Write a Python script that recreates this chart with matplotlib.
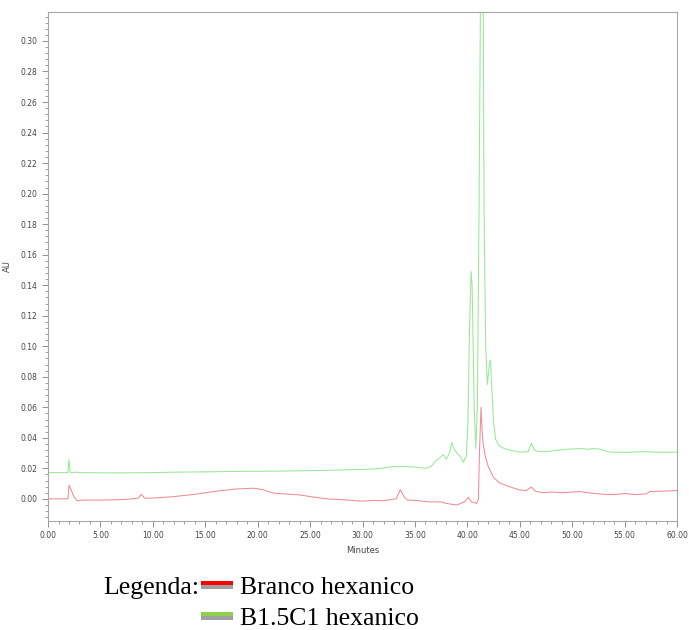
import matplotlib
matplotlib.use("Agg")
import matplotlib.pyplot as plt
from matplotlib.patches import Rectangle
from matplotlib.ticker import MultipleLocator, FormatStrFormatter

# B1.5C1 hexanico (green trace): retention time / min, absorbance / AU
green_time = [0, 1.9, 2.0, 2.1, 2.3, 2.8, 3, 6, 10, 12, 15, 18, 22, 26, 30, 31, 32,
              33, 33.5, 34, 35, 36, 36.5, 37.0, 37.4, 37.7, 38.0, 38.3, 38.5, 38.7,
              39.0, 39.3, 39.6, 39.9, 40.05, 40.2, 40.35, 40.45, 40.55, 40.65, 40.8,
              40.95, 41.1, 41.25, 41.37, 41.5, 41.6, 41.75, 41.9, 42.1, 42.2, 42.35,
              42.5, 42.7, 43.0, 43.5, 44, 45, 45.8, 46.1, 46.4, 46.8, 47.5, 48.8,
              49.5, 50.7, 51.5, 52.0, 52.7, 53.6, 55, 57, 58, 60]
green_au = [0.0172, 0.0172, 0.026, 0.0175, 0.0172, 0.0175, 0.0172, 0.017, 0.0172,
            0.0175, 0.0177, 0.018, 0.0182, 0.0186, 0.0193, 0.0196, 0.0202, 0.0212,
            0.021, 0.0212, 0.0208, 0.020, 0.021, 0.025, 0.027, 0.029, 0.026, 0.030,
            0.037, 0.033, 0.030, 0.028, 0.024, 0.028, 0.05, 0.11, 0.149, 0.14, 0.10,
            0.06, 0.033, 0.06, 0.18, 0.33, 0.42, 0.33, 0.18, 0.10, 0.075, 0.088,
            0.091, 0.07, 0.05, 0.039, 0.035, 0.033, 0.032, 0.0306, 0.031, 0.0365,
            0.032, 0.031, 0.031, 0.032, 0.0325, 0.033, 0.0325, 0.033, 0.0325,
            0.0306, 0.0305, 0.031, 0.0306, 0.0306]

# Branco hexanico (red trace)
red_time = [0, 1.9, 2.0, 2.2, 2.5, 2.8, 3.2, 5, 7, 8, 8.6, 8.9, 9.2, 10, 12, 14, 16,
            18, 19.6, 20.5, 21.5, 23, 24, 25, 26.6, 28, 30, 31, 32, 33.2, 33.6, 34.0,
            34.3, 35, 36.4, 37.5, 38, 39, 39.7, 40.1, 40.4, 40.9, 41.05, 41.15, 41.3,
            41.4, 41.5, 41.7, 42.0, 42.5, 43.1, 44, 45, 45.6, 46.1, 46.5, 47.2, 48,
            49.1, 50.7, 51.5, 53, 54, 55, 56, 57.1, 57.4, 58.5, 60]
red_au = [0.0, 0.0, 0.009, 0.006, 0.001, -0.0013, -0.0008, -0.0008, -0.0005, 0.0,
          0.0005, 0.003, 0.0005, 0.0005, 0.0015, 0.003, 0.005, 0.0065, 0.007, 0.006,
          0.0038, 0.003, 0.0026, 0.0015, 0.0, -0.0005, -0.0015, -0.001, -0.0012, 0.0,
          0.006, 0.001, -0.0008, -0.001, -0.002, -0.002, -0.003, -0.004, -0.002,
          0.001, -0.002, -0.003, 0.0, 0.03, 0.060, 0.045, 0.0365, 0.028, 0.021,
          0.014, 0.0103, 0.008, 0.0058, 0.0055, 0.0077, 0.005, 0.004, 0.0045, 0.004,
          0.0048, 0.004, 0.003, 0.0028, 0.0035, 0.0028, 0.0033, 0.0048, 0.005,
          0.0055]

series_names = ["Branco hexanico", "B1.5C1 hexanico"]

RED = "#f08a98"
GREEN = "#98e898"

fig = plt.figure(figsize=(6.89, 6.30), dpi=100)
ax = fig.add_axes([0.0697, 0.173, 0.913, 0.808])

ax.plot(green_time, green_au, color=GREEN, lw=0.75)
ax.plot(red_time, red_au, color=RED, lw=0.75)

ax.set_xlim(0, 60)
ax.set_ylim(-0.0145, 0.319)

ax.xaxis.set_major_locator(MultipleLocator(5))
ax.xaxis.set_minor_locator(MultipleLocator(1))
ax.yaxis.set_major_locator(MultipleLocator(0.02))
ax.yaxis.set_minor_locator(MultipleLocator(0.004))
ax.xaxis.set_major_formatter(FormatStrFormatter("%.2f"))
ax.yaxis.set_major_formatter(FormatStrFormatter("%.2f"))

for side in ["left", "bottom", "right", "top"]:
    ax.spines[side].set_color("#a8a8a8")
    ax.spines[side].set_linewidth(0.8)
ax.tick_params(which="both", direction="out", color="#909090", labelsize=5.5,
               labelcolor="#444444", top=False, right=False)
ax.tick_params(which="major", length=4, width=0.7)
ax.tick_params(which="minor", length=2, width=0.6)

ax.set_xlabel("Minutes", fontsize=6, color="#444444", labelpad=4)
ax.set_ylabel("AU", fontsize=6, color="#444444", labelpad=6)

# legend drawn under the axes, in a serif face
serif = "Liberation Serif"
fig.text(103 / 689, 1 - 594 / 630, "Legenda:", fontsize=18.5, family=serif)
for i, (name, col) in enumerate(zip(series_names, ["#ff0000", "#8fd14f"])):
    y_base = 594 + 31 * i
    top = 581 + 31 * i
    fig.patches.append(Rectangle((201 / 689, 1 - (top + 4) / 630), 32 / 689, 4 / 630,
                                 transform=fig.transFigure, color=col, lw=0))
    fig.patches.append(Rectangle((201 / 689, 1 - (top + 8) / 630), 32 / 689, 4 / 630,
                                 transform=fig.transFigure, color="#a0a0a0", lw=0))
    fig.text(240 / 689, 1 - y_base / 630, name, fontsize=18.5, family=serif)

fig.savefig("out.png", dpi=100)
